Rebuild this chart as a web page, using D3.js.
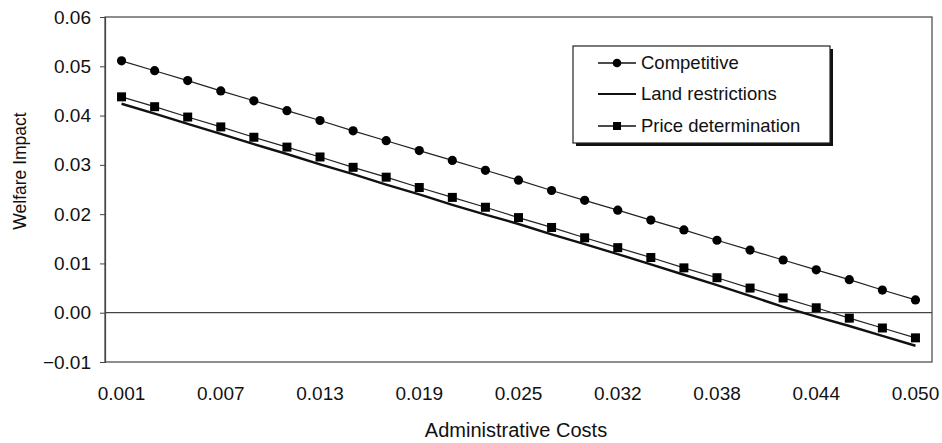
<!DOCTYPE html>
<html><head><meta charset="utf-8">
<script src="https://cdn.jsdelivr.net/npm/d3@7"></script>
<style>
html,body{margin:0;padding:0;background:#fff;}
svg text{font-family:"Liberation Sans",Arial,Helvetica,sans-serif;fill:#111;}
</style></head>
<body>
<svg id="chart" width="942" height="443"></svg>
<script>
const categories = ["0.001","0.003","0.005","0.007","0.009","0.011","0.013","0.015","0.017","0.019","0.021","0.023","0.025","0.028","0.030","0.032","0.034","0.036","0.038","0.040","0.042","0.044","0.046","0.048","0.050"];
const tickLabels = ["0.001","0.007","0.013","0.019","0.025","0.032","0.038","0.044","0.050"];
const competitive = [0.0511,0.0491,0.0471,0.0450,0.0430,0.0410,0.0390,0.0369,0.0349,0.0329,0.0309,0.0289,0.0269,0.0248,0.0228,0.0208,0.0188,0.0168,0.0147,0.0127,0.0107,0.0087,0.0067,0.0046,0.0026];
const landRestrictions = [0.0424,0.0404,0.0383,0.0363,0.0342,0.0322,0.0301,0.0281,0.0260,0.0240,0.0219,0.0199,0.0180,0.0159,0.0139,0.0119,0.0098,0.0077,0.0056,0.0034,0.0012,-0.0008,-0.0027,-0.0047,-0.0067];
const priceDetermination = [0.0438,0.0418,0.0397,0.0377,0.0356,0.0336,0.0316,0.0295,0.0275,0.0254,0.0234,0.0214,0.0193,0.0173,0.0152,0.0132,0.0112,0.0091,0.0071,0.0050,0.0030,0.0010,-0.0011,-0.0031,-0.0051];
const yTicks = [-0.01,0,0.01,0.02,0.03,0.04,0.05,0.06];
const seriesNames = ["Competitive","Land restrictions","Price determination"];

const svg = d3.select("#chart");
const L = 105, R = 932, T = 17, B = 362;
const x = d3.scaleBand().domain(categories).range([L, R]).padding(0);
const y = d3.scaleLinear().domain([-0.01, 0.06]).range([B, T]);
const cx = d => x(d) + x.bandwidth() / 2;

// plot border
svg.append("rect").attr("x", L).attr("y", T).attr("width", R - L).attr("height", B - T)
  .attr("fill", "none").attr("stroke", "#444").attr("stroke-width", 1.2);

// zero line
svg.append("line").attr("x1", L).attr("x2", R).attr("y1", y(0)).attr("y2", y(0))
  .attr("stroke", "#444").attr("stroke-width", 1.2);

// y axis
const yAxis = d3.axisLeft(y).tickValues(yTicks).tickSize(5).tickPadding(9)
  .tickFormat(d3.format(".2f"));
const ya = svg.append("g").attr("transform", `translate(${L},0)`).call(yAxis);
ya.select(".domain").attr("stroke", "#444").attr("stroke-width", 1.2);
ya.selectAll(".tick line").attr("stroke", "#444");
ya.selectAll("text").attr("font-size", 19).style("font-family", '"Liberation Sans",Arial,sans-serif').attr("fill", "#111");

// x axis
const xAxis = d3.axisBottom(x).tickValues(categories.filter(c => tickLabels.includes(c)))
  .tickSize(0).tickPadding(25);
const xa = svg.append("g").attr("transform", `translate(0,${B})`).call(xAxis);
xa.select(".domain").remove();
xa.selectAll("text").attr("font-size", 19).style("font-family", '"Liberation Sans",Arial,sans-serif').attr("fill", "#111");

// titles
svg.append("text").attr("x", 516).attr("y", 437).attr("text-anchor", "middle")
  .attr("font-size", 20).text("Administrative Costs");
svg.append("text").attr("transform", "translate(26,171) rotate(-90)").attr("text-anchor", "middle")
  .attr("font-size", 17.5).text("Welfare Impact");

const line = d3.line().x((d, i) => cx(categories[i])).y(d => y(d));

// land restrictions
svg.append("path").datum(landRestrictions).attr("d", line)
  .attr("fill", "none").attr("stroke", "#111").attr("stroke-width", 2.4);
// price determination
svg.append("path").datum(priceDetermination).attr("d", line)
  .attr("fill", "none").attr("stroke", "#222").attr("stroke-width", 1.2);
svg.append("g").selectAll("rect").data(priceDetermination).join("rect")
  .attr("x", (d, i) => cx(categories[i]) - 4.5).attr("y", d => y(d) - 4.5)
  .attr("width", 9).attr("height", 9).attr("fill", "#000");
// competitive
svg.append("path").datum(competitive).attr("d", line)
  .attr("fill", "none").attr("stroke", "#222").attr("stroke-width", 1.2);
svg.append("g").selectAll("circle").data(competitive).join("circle")
  .attr("cx", (d, i) => cx(categories[i])).attr("cy", d => y(d)).attr("r", 4.6).attr("fill", "#000");

// legend
const lg = svg.append("g");
lg.append("rect").attr("x", 576).attr("y", 49).attr("width", 257).attr("height", 97).attr("fill", "#111");
lg.append("rect").attr("x", 573).attr("y", 46).attr("width", 257).attr("height", 97)
  .attr("fill", "#fff").attr("stroke", "#222").attr("stroke-width", 1.2);
const rows = [63, 94, 126];
seriesNames.forEach((name, i) => {
  const yy = rows[i];
  lg.append("line").attr("x1", 598).attr("x2", 636).attr("y1", yy).attr("y2", yy)
    .attr("stroke", "#111").attr("stroke-width", i === 1 ? 2 : 1.3);
  if (i === 0) lg.append("circle").attr("cx", 617).attr("cy", yy).attr("r", 4.3).attr("fill", "#000");
  if (i === 2) lg.append("rect").attr("x", 613).attr("y", yy - 4).attr("width", 8).attr("height", 8).attr("fill", "#000");
  lg.append("text").attr("x", 641).attr("y", yy).attr("dy", "0.35em").attr("font-size", 18.5).text(name);
});
</script>
</body></html>
